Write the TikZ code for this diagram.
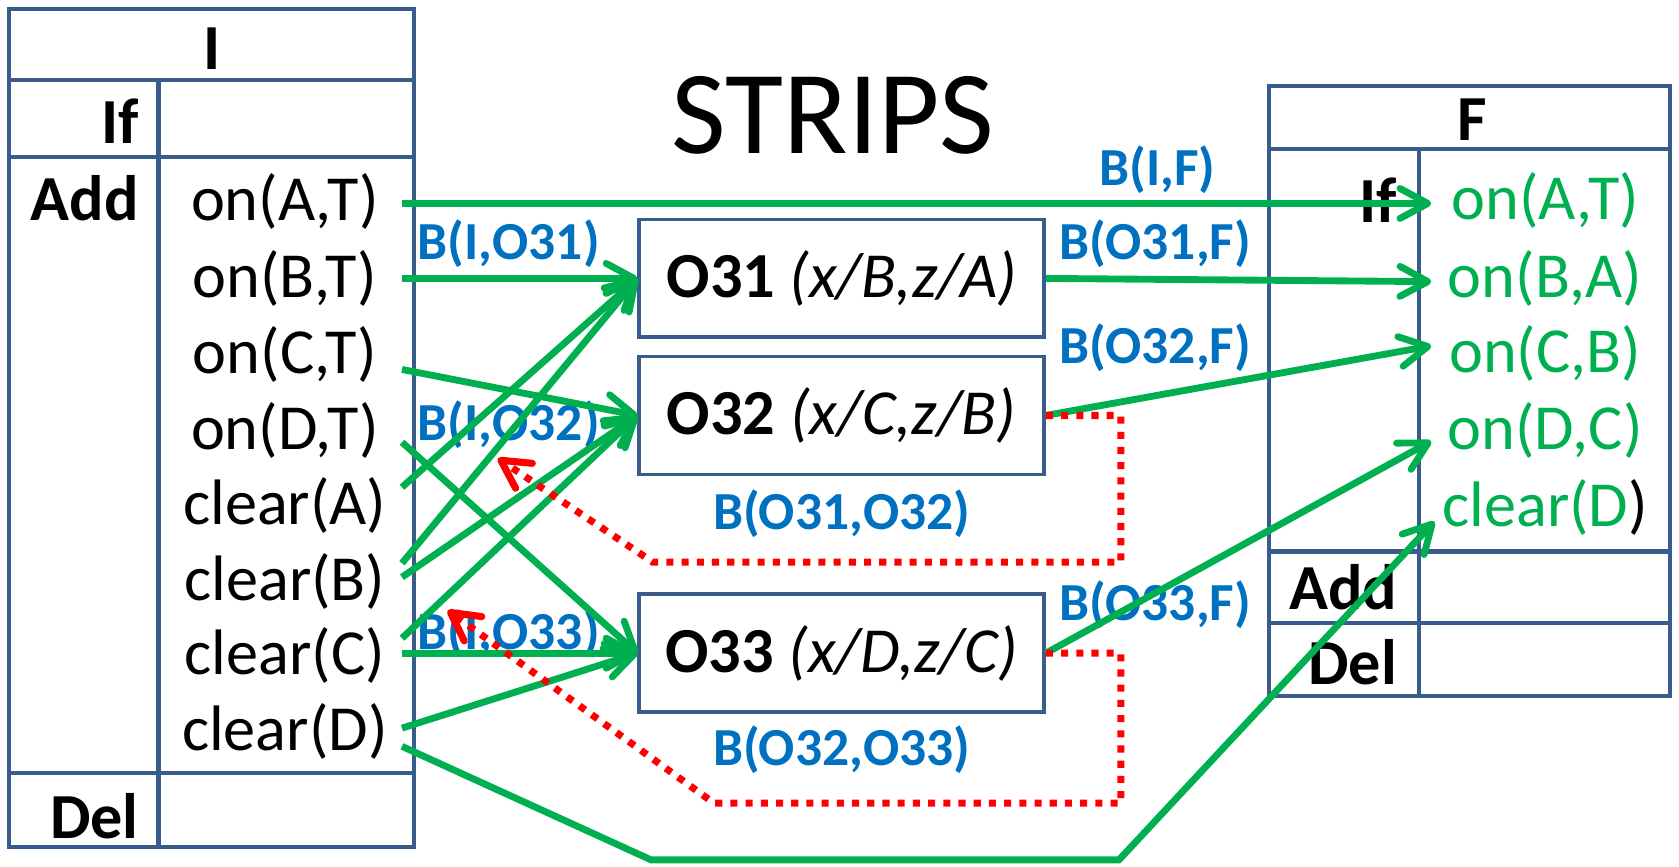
\documentclass[tikz,border=0pt]{standalone}
\usepackage{fontspec}
\setmainfont{Carlito}
\usetikzlibrary{arrows.meta,calc}
\definecolor{tblue}{RGB}{56,93,138}
\definecolor{ggreen}{RGB}{0,176,80}
\definecolor{lblue}{RGB}{0,112,192}
\definecolor{rred}{RGB}{255,0,0}
\begin{document}
\begin{tikzpicture}[x=0.5pt,y=-0.5pt,
  frame/.style={draw=tblue,line width=1.9pt},
  itemI/.style={font=\fontsize{30}{35}\selectfont,inner sep=0pt,minimum width=109pt},
  itemF/.style={font=\fontsize{30}{35}\selectfont,inner sep=0pt,minimum width=106pt,text=ggreen},
  head/.style={font=\fontsize{30}{35}\selectfont\bfseries,inner sep=0pt},
  lbl/.style={font=\fontsize{25}{30}\selectfont\bfseries,text=lblue,inner sep=0pt},
  opbox/.style={draw=tblue,line width=1.7pt,minimum width=189pt,minimum height=55pt,inner sep=0pt,font=\fontsize{30}{35}\selectfont},
  garrow/.style={draw=ggreen,line width=3.2pt,-{Straight Barb[length=13pt,width=14pt,round]}},
  rarrow/.style={draw=rred,line width=3.3pt,dash pattern=on 3.3pt off 3.8pt,-{Straight Barb[length=13pt,width=14pt,round]}},
]
\useasboundingbox (0,0) rectangle (1568,809);
% table I
\draw[frame] (8,8) rectangle (387,791);
\draw[frame] (8,75) -- (387,75);
\draw[frame] (8,147) -- (387,147);
\draw[frame] (8,722) -- (387,722);
\draw[frame] (148,75) -- (148,791);
\node[head] (Ihead) at (198,45) {I};
\node[head,anchor=east] (Iif) at (130,113) {If};
\node[head,anchor=east] (Iadd) at (130,185) {Add};
\node[head,anchor=east] (Idel) at (130,762) {Del};
\node[itemI] (iAT) at (266,188) {on(A,T)};
\node[itemI] (iBT) at (266,260) {on(B,T)};
\node[itemI] (iCT) at (266,331) {on(C,T)};
\node[itemI] (iDT) at (266,402) {on(D,T)};
\node[itemI] (icA) at (266,472) {clear(A)};
\node[itemI] (icB) at (266,543) {clear(B)};
\node[itemI] (icC) at (266,612) {clear(C)};
\node[itemI] (icD) at (266,683) {clear(D)};
% title
\node[font=\fontsize{55.5}{62}\selectfont,inner sep=0pt] (title) at (778,108) {STRIPS};
% operator boxes
\node[opbox] (O31) at (786,260) {\textbf{O31} \textit{(x/B,z/A)}};
\node[opbox] (O32) at (786,388) {\textbf{O32} \textit{(x/C,z/B)}};
\node[opbox] (O33) at (786,610) {\textbf{O33} \textit{(x/D,z/C)}};
% table F
\draw[frame] (1185,80) rectangle (1560,650);
\draw[frame] (1185,139) -- (1560,139);
\draw[frame] (1185,515) -- (1560,515);
\draw[frame] (1185,582) -- (1560,582);
\draw[frame] (1325,139) -- (1325,650);
\node[head] (Fhead) at (1375,112) {F};
\node[head,anchor=east] (Fif) at (1305,187) {If};
\node[head,anchor=east] (Fadd) at (1305,548) {Add};
\node[head,anchor=east] (Fdel) at (1305,618) {Del};
\node[itemF] (fAT) at (1443,187) {on(A,T)};
\node[itemF] (fBA) at (1443,260) {on(B,A)};
\node[itemF] (fCB) at (1443,330) {on(C,B)};
\node[itemF] (fDC) at (1443,402) {on(D,C)};
\node[itemF] (fcD) at (1443,474) {clear(D\textcolor{black}{)}};
% labels
\node[lbl] (lIF) at (1081,158) {B(I,F)};
\node[lbl] (lIO31) at (475,228) {B(I,O31)};
\node[lbl] (lO31F) at (1079,228) {B(O31,F)};
\node[lbl] (lO32F) at (1079,325) {B(O32,F)};
\node[lbl] (lIO32) at (475,397) {B(I,O32)};
\node[lbl] (lO31O32) at (786,480) {B(O31,O32)};
\node[lbl] (lO33F) at (1079,565) {B(O33,F)};
\node[lbl] (lIO33) at (475,592) {B(I,O33)};
\node[lbl] (lO32O33) at (786,700) {B(O32,O33)};
% green arrows
\draw[garrow] ($(iAT.east)+(0,2)$) -- ($(fAT.west)+(0,3)$);
\draw[garrow] (iBT.east) -- (O31.west);
\draw[garrow] ($(iCT.east)+(0,14)$) -- (O32.west);
\draw[garrow] ($(iDT.east)+(0,11)$) -- (O33.west);
\draw[garrow] ($(icA.east)+(0,-17)$) -- (O31.west);
\draw[garrow] ($(icB.east)+(0,-17)$) -- (O31.west);
\draw[garrow] ($(icB.east)+(0,-4)$) -- (O32.west);
\draw[garrow] ($(icC.east)+(0,-16)$) -- (O32.west);
\draw[garrow] ($(icC.east)+(0,-2)$) -- (O33.west);
\draw[garrow] ($(icD.east)+(0,-3)$) -- (O33.west);
\coordinate (b1) at (608,803);
\coordinate (b2) at (1045,803);
\draw[garrow] ($(icD.east)+(0,14)$) -- (b1) -- (b2) -- ($(fcD.west)+(3,13)$);
\draw[garrow] (O31.east) -- ($(fBA.west)+(0,3)$);
\draw[garrow] (O32.east) -- ($(fCB.west)+(0,-7)$);
\draw[garrow] (O33.east) -- ($(fDC.west)+(0,10)$);
% red dotted arrows
\coordinate (rA) at (465,428);
\coordinate (rB) at (418,570);
\draw[rarrow] (O32.east) -- ++(70,0) -- ++(0,137) -- ++(-437,0) -- (rA);
\draw[rarrow] (O33.east) -- ++(70,0) -- ++(0,140) -- ++(-380,0) -- (rB);
\end{tikzpicture}
\end{document}
